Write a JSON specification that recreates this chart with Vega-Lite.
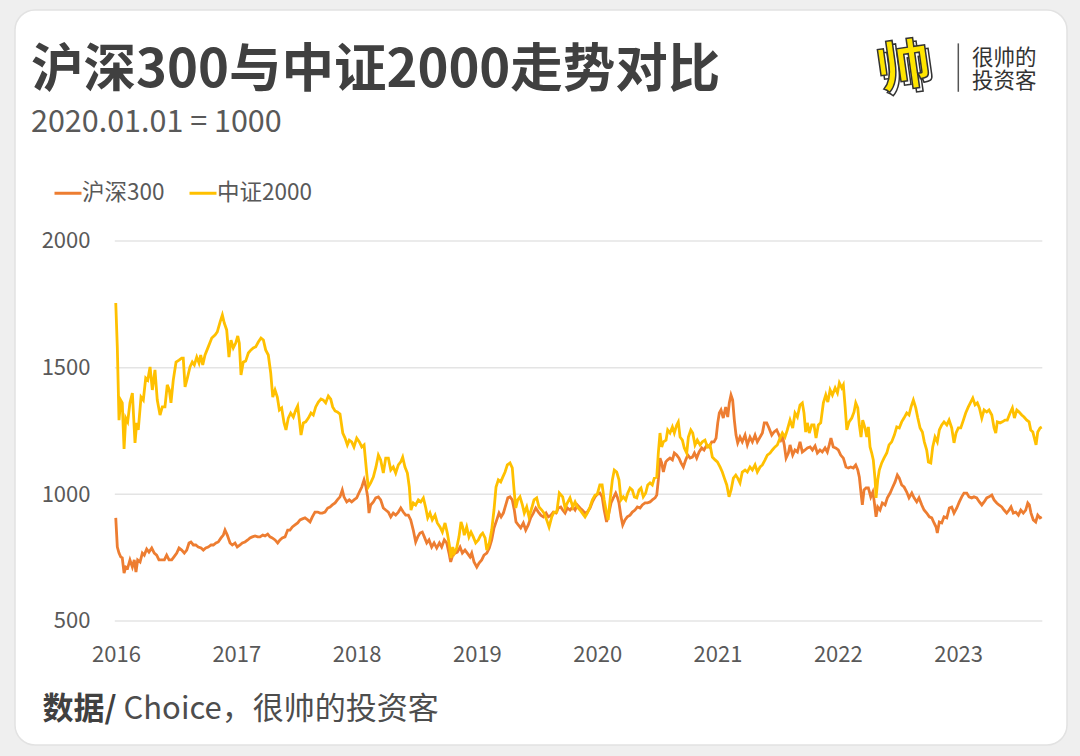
{
"$schema":"https://vega.github.io/schema/vega-lite/v6.json",
"width":1052,"height":735,
"autosize":{"type":"none"},
"padding":{"left":15,"top":10,"right":13,"bottom":11},
"background":"#efefef",
"config":{"font":"Noto Sans CJK SC","view":{"fill":"#ffffff","cornerRadius":20,"stroke":"#e2e2e2","strokeWidth":1.5}},
"title":{"text":"沪深300与中证2000走势对比","subtitle":"2020.01.01 = 1000","orient":"top","anchor":"start","frame":"group","offset":-129,"dx":16,"fontSize":52.5,"fontWeight":"bold","color":"#404040","subtitleFontSize":30.5,"subtitleColor":"#595959","subtitlePadding":9,"font":"Noto Sans CJK SC","subtitleFont":"Noto Sans CJK SC"},
"datasets":{
"hs":[{"t":2015.998,"v":907},{"t":2016.011,"v":792},{"t":2016.025,"v":768},{"t":2016.039,"v":753},{"t":2016.052,"v":749},{"t":2016.067,"v":689},{"t":2016.081,"v":713},{"t":2016.097,"v":709},{"t":2016.116,"v":741},{"t":2016.136,"v":713},{"t":2016.152,"v":741},{"t":2016.166,"v":693},{"t":2016.180,"v":741},{"t":2016.200,"v":733},{"t":2016.219,"v":768},{"t":2016.235,"v":760},{"t":2016.255,"v":784},{"t":2016.274,"v":772},{"t":2016.297,"v":788},{"t":2016.318,"v":768},{"t":2016.338,"v":760},{"t":2016.357,"v":741},{"t":2016.380,"v":741},{"t":2016.402,"v":741},{"t":2016.421,"v":760},{"t":2016.441,"v":741},{"t":2016.463,"v":741},{"t":2016.482,"v":753},{"t":2016.505,"v":768},{"t":2016.524,"v":788},{"t":2016.546,"v":780},{"t":2016.568,"v":768},{"t":2016.588,"v":780},{"t":2016.607,"v":808},{"t":2016.623,"v":812},{"t":2016.643,"v":800},{"t":2016.663,"v":800},{"t":2016.684,"v":792},{"t":2016.707,"v":788},{"t":2016.726,"v":780},{"t":2016.746,"v":788},{"t":2016.767,"v":792},{"t":2016.790,"v":800},{"t":2016.809,"v":800},{"t":2016.831,"v":808},{"t":2016.850,"v":812},{"t":2016.873,"v":828},{"t":2016.892,"v":839},{"t":2016.906,"v":859},{"t":2016.925,"v":839},{"t":2016.948,"v":808},{"t":2016.967,"v":800},{"t":2016.989,"v":808},{"t":2017.008,"v":792},{"t":2017.031,"v":800},{"t":2017.050,"v":808},{"t":2017.072,"v":812},{"t":2017.095,"v":820},{"t":2017.114,"v":828},{"t":2017.133,"v":832},{"t":2017.156,"v":836},{"t":2017.178,"v":832},{"t":2017.197,"v":832},{"t":2017.220,"v":839},{"t":2017.239,"v":836},{"t":2017.261,"v":843},{"t":2017.280,"v":832},{"t":2017.299,"v":828},{"t":2017.322,"v":820},{"t":2017.344,"v":808},{"t":2017.363,"v":820},{"t":2017.382,"v":828},{"t":2017.405,"v":832},{"t":2017.427,"v":859},{"t":2017.446,"v":859},{"t":2017.466,"v":871},{"t":2017.488,"v":879},{"t":2017.510,"v":887},{"t":2017.530,"v":899},{"t":2017.549,"v":903},{"t":2017.571,"v":907},{"t":2017.594,"v":899},{"t":2017.613,"v":891},{"t":2017.632,"v":911},{"t":2017.654,"v":930},{"t":2017.677,"v":930},{"t":2017.696,"v":926},{"t":2017.715,"v":926},{"t":2017.737,"v":930},{"t":2017.760,"v":946},{"t":2017.779,"v":950},{"t":2017.798,"v":958},{"t":2017.821,"v":966},{"t":2017.840,"v":978},{"t":2017.862,"v":990},{"t":2017.881,"v":1017},{"t":2017.895,"v":990},{"t":2017.918,"v":970},{"t":2017.939,"v":978},{"t":2017.959,"v":970},{"t":2017.978,"v":978},{"t":2018.001,"v":986},{"t":2018.023,"v":1009},{"t":2018.043,"v":1029},{"t":2018.062,"v":1057},{"t":2018.078,"v":1029},{"t":2018.092,"v":990},{"t":2018.103,"v":926},{"t":2018.117,"v":958},{"t":2018.139,"v":970},{"t":2018.159,"v":986},{"t":2018.181,"v":990},{"t":2018.200,"v":978},{"t":2018.222,"v":946},{"t":2018.242,"v":938},{"t":2018.264,"v":930},{"t":2018.284,"v":911},{"t":2018.305,"v":926},{"t":2018.325,"v":918},{"t":2018.347,"v":930},{"t":2018.367,"v":946},{"t":2018.388,"v":930},{"t":2018.408,"v":918},{"t":2018.430,"v":918},{"t":2018.450,"v":899},{"t":2018.471,"v":859},{"t":2018.491,"v":812},{"t":2018.508,"v":832},{"t":2018.527,"v":847},{"t":2018.546,"v":851},{"t":2018.563,"v":832},{"t":2018.583,"v":808},{"t":2018.602,"v":820},{"t":2018.624,"v":792},{"t":2018.644,"v":808},{"t":2018.666,"v":788},{"t":2018.688,"v":808},{"t":2018.707,"v":792},{"t":2018.729,"v":820},{"t":2018.749,"v":808},{"t":2018.768,"v":768},{"t":2018.782,"v":733},{"t":2018.799,"v":760},{"t":2018.818,"v":768},{"t":2018.837,"v":772},{"t":2018.860,"v":792},{"t":2018.879,"v":768},{"t":2018.901,"v":780},{"t":2018.920,"v":768},{"t":2018.943,"v":753},{"t":2018.957,"v":768},{"t":2018.976,"v":733},{"t":2018.999,"v":713},{"t":2019.018,"v":729},{"t":2019.040,"v":741},{"t":2019.059,"v":760},{"t":2019.082,"v":768},{"t":2019.103,"v":788},{"t":2019.123,"v":820},{"t":2019.142,"v":867},{"t":2019.165,"v":899},{"t":2019.184,"v":926},{"t":2019.201,"v":911},{"t":2019.220,"v":926},{"t":2019.240,"v":958},{"t":2019.257,"v":986},{"t":2019.275,"v":990},{"t":2019.294,"v":978},{"t":2019.311,"v":938},{"t":2019.325,"v":891},{"t":2019.344,"v":879},{"t":2019.364,"v":867},{"t":2019.386,"v":887},{"t":2019.406,"v":859},{"t":2019.427,"v":879},{"t":2019.447,"v":907},{"t":2019.469,"v":926},{"t":2019.489,"v":946},{"t":2019.511,"v":930},{"t":2019.531,"v":918},{"t":2019.552,"v":911},{"t":2019.575,"v":926},{"t":2019.594,"v":911},{"t":2019.616,"v":918},{"t":2019.635,"v":930},{"t":2019.658,"v":926},{"t":2019.677,"v":946},{"t":2019.697,"v":950},{"t":2019.713,"v":938},{"t":2019.733,"v":926},{"t":2019.752,"v":946},{"t":2019.774,"v":938},{"t":2019.797,"v":950},{"t":2019.816,"v":938},{"t":2019.835,"v":958},{"t":2019.857,"v":946},{"t":2019.876,"v":938},{"t":2019.899,"v":926},{"t":2019.918,"v":930},{"t":2019.940,"v":946},{"t":2019.960,"v":970},{"t":2019.982,"v":990},{"t":2020.000,"v":1000},{"t":2020.022,"v":1005},{"t":2020.041,"v":990},{"t":2020.058,"v":938},{"t":2020.078,"v":891},{"t":2020.097,"v":926},{"t":2020.115,"v":966},{"t":2020.134,"v":986},{"t":2020.154,"v":1005},{"t":2020.167,"v":990},{"t":2020.181,"v":966},{"t":2020.198,"v":911},{"t":2020.212,"v":879},{"t":2020.231,"v":899},{"t":2020.250,"v":911},{"t":2020.273,"v":918},{"t":2020.292,"v":930},{"t":2020.314,"v":938},{"t":2020.334,"v":950},{"t":2020.356,"v":946},{"t":2020.375,"v":958},{"t":2020.398,"v":966},{"t":2020.417,"v":966},{"t":2020.439,"v":970},{"t":2020.458,"v":978},{"t":2020.481,"v":986},{"t":2020.495,"v":997},{"t":2020.508,"v":1057},{"t":2020.522,"v":1143},{"t":2020.536,"v":1124},{"t":2020.550,"v":1088},{"t":2020.570,"v":1128},{"t":2020.586,"v":1136},{"t":2020.605,"v":1143},{"t":2020.625,"v":1136},{"t":2020.641,"v":1163},{"t":2020.661,"v":1155},{"t":2020.680,"v":1143},{"t":2020.697,"v":1124},{"t":2020.716,"v":1108},{"t":2020.736,"v":1136},{"t":2020.753,"v":1155},{"t":2020.772,"v":1143},{"t":2020.791,"v":1147},{"t":2020.808,"v":1163},{"t":2020.827,"v":1143},{"t":2020.847,"v":1167},{"t":2020.869,"v":1183},{"t":2020.888,"v":1175},{"t":2020.911,"v":1195},{"t":2020.930,"v":1187},{"t":2020.952,"v":1207},{"t":2020.971,"v":1207},{"t":2020.988,"v":1222},{"t":2021.002,"v":1282},{"t":2021.015,"v":1321},{"t":2021.029,"v":1333},{"t":2021.048,"v":1301},{"t":2021.068,"v":1345},{"t":2021.085,"v":1305},{"t":2021.098,"v":1361},{"t":2021.112,"v":1392},{"t":2021.126,"v":1372},{"t":2021.140,"v":1293},{"t":2021.154,"v":1234},{"t":2021.168,"v":1203},{"t":2021.187,"v":1226},{"t":2021.206,"v":1207},{"t":2021.229,"v":1234},{"t":2021.248,"v":1195},{"t":2021.270,"v":1226},{"t":2021.290,"v":1207},{"t":2021.312,"v":1234},{"t":2021.331,"v":1207},{"t":2021.354,"v":1226},{"t":2021.373,"v":1242},{"t":2021.389,"v":1282},{"t":2021.409,"v":1282},{"t":2021.428,"v":1262},{"t":2021.451,"v":1234},{"t":2021.470,"v":1246},{"t":2021.492,"v":1254},{"t":2021.511,"v":1234},{"t":2021.528,"v":1214},{"t":2021.542,"v":1226},{"t":2021.555,"v":1195},{"t":2021.570,"v":1143},{"t":2021.589,"v":1163},{"t":2021.603,"v":1195},{"t":2021.625,"v":1155},{"t":2021.644,"v":1175},{"t":2021.664,"v":1167},{"t":2021.686,"v":1207},{"t":2021.705,"v":1167},{"t":2021.728,"v":1175},{"t":2021.747,"v":1183},{"t":2021.770,"v":1187},{"t":2021.789,"v":1175},{"t":2021.811,"v":1191},{"t":2021.830,"v":1163},{"t":2021.852,"v":1175},{"t":2021.871,"v":1167},{"t":2021.894,"v":1183},{"t":2021.913,"v":1167},{"t":2021.929,"v":1195},{"t":2021.943,"v":1222},{"t":2021.962,"v":1187},{"t":2021.982,"v":1183},{"t":2022.004,"v":1175},{"t":2022.024,"v":1155},{"t":2022.046,"v":1143},{"t":2022.068,"v":1108},{"t":2022.088,"v":1104},{"t":2022.107,"v":1108},{"t":2022.129,"v":1104},{"t":2022.149,"v":1116},{"t":2022.166,"v":1096},{"t":2022.179,"v":1068},{"t":2022.193,"v":1005},{"t":2022.204,"v":958},{"t":2022.218,"v":1017},{"t":2022.235,"v":1025},{"t":2022.254,"v":1025},{"t":2022.274,"v":990},{"t":2022.291,"v":1009},{"t":2022.301,"v":978},{"t":2022.318,"v":911},{"t":2022.332,"v":950},{"t":2022.351,"v":938},{"t":2022.370,"v":966},{"t":2022.393,"v":958},{"t":2022.412,"v":986},{"t":2022.435,"v":1005},{"t":2022.453,"v":1025},{"t":2022.476,"v":1049},{"t":2022.495,"v":1076},{"t":2022.511,"v":1064},{"t":2022.531,"v":1037},{"t":2022.551,"v":1029},{"t":2022.573,"v":1009},{"t":2022.592,"v":986},{"t":2022.615,"v":1005},{"t":2022.634,"v":986},{"t":2022.656,"v":970},{"t":2022.675,"v":986},{"t":2022.698,"v":958},{"t":2022.717,"v":938},{"t":2022.739,"v":926},{"t":2022.761,"v":911},{"t":2022.781,"v":907},{"t":2022.800,"v":887},{"t":2022.817,"v":871},{"t":2022.827,"v":847},{"t":2022.844,"v":891},{"t":2022.864,"v":887},{"t":2022.883,"v":911},{"t":2022.906,"v":907},{"t":2022.927,"v":946},{"t":2022.947,"v":950},{"t":2022.966,"v":926},{"t":2022.989,"v":946},{"t":2023.010,"v":970},{"t":2023.030,"v":990},{"t":2023.049,"v":1005},{"t":2023.072,"v":1005},{"t":2023.091,"v":990},{"t":2023.113,"v":986},{"t":2023.132,"v":990},{"t":2023.155,"v":986},{"t":2023.177,"v":970},{"t":2023.197,"v":958},{"t":2023.216,"v":970},{"t":2023.238,"v":986},{"t":2023.257,"v":990},{"t":2023.280,"v":997},{"t":2023.299,"v":978},{"t":2023.321,"v":966},{"t":2023.340,"v":958},{"t":2023.363,"v":950},{"t":2023.382,"v":938},{"t":2023.404,"v":926},{"t":2023.424,"v":938},{"t":2023.440,"v":950},{"t":2023.459,"v":926},{"t":2023.479,"v":930},{"t":2023.501,"v":918},{"t":2023.521,"v":938},{"t":2023.542,"v":926},{"t":2023.562,"v":938},{"t":2023.579,"v":966},{"t":2023.592,"v":958},{"t":2023.606,"v":926},{"t":2023.625,"v":899},{"t":2023.645,"v":891},{"t":2023.662,"v":918},{"t":2023.681,"v":907},{"t":2023.695,"v":911}],
"zz":[{"t":2015.998,"v":1755},{"t":2016.011,"v":1578},{"t":2016.025,"v":1293},{"t":2016.039,"v":1372},{"t":2016.052,"v":1361},{"t":2016.067,"v":1179},{"t":2016.081,"v":1301},{"t":2016.097,"v":1286},{"t":2016.116,"v":1361},{"t":2016.136,"v":1400},{"t":2016.158,"v":1203},{"t":2016.172,"v":1282},{"t":2016.185,"v":1254},{"t":2016.208,"v":1384},{"t":2016.227,"v":1372},{"t":2016.247,"v":1459},{"t":2016.264,"v":1451},{"t":2016.283,"v":1503},{"t":2016.302,"v":1412},{"t":2016.324,"v":1491},{"t":2016.343,"v":1372},{"t":2016.366,"v":1313},{"t":2016.385,"v":1345},{"t":2016.407,"v":1345},{"t":2016.426,"v":1432},{"t":2016.443,"v":1412},{"t":2016.457,"v":1361},{"t":2016.476,"v":1451},{"t":2016.499,"v":1522},{"t":2016.524,"v":1530},{"t":2016.546,"v":1538},{"t":2016.559,"v":1538},{"t":2016.574,"v":1424},{"t":2016.593,"v":1459},{"t":2016.615,"v":1503},{"t":2016.634,"v":1522},{"t":2016.651,"v":1511},{"t":2016.671,"v":1542},{"t":2016.690,"v":1518},{"t":2016.704,"v":1550},{"t":2016.721,"v":1511},{"t":2016.740,"v":1550},{"t":2016.767,"v":1582},{"t":2016.796,"v":1617},{"t":2016.823,"v":1629},{"t":2016.842,"v":1641},{"t":2016.865,"v":1680},{"t":2016.884,"v":1708},{"t":2016.900,"v":1676},{"t":2016.920,"v":1649},{"t":2016.939,"v":1542},{"t":2016.956,"v":1609},{"t":2016.975,"v":1578},{"t":2016.995,"v":1597},{"t":2017.012,"v":1625},{"t":2017.025,"v":1597},{"t":2017.039,"v":1471},{"t":2017.058,"v":1522},{"t":2017.078,"v":1526},{"t":2017.100,"v":1558},{"t":2017.122,"v":1570},{"t":2017.141,"v":1578},{"t":2017.161,"v":1582},{"t":2017.183,"v":1601},{"t":2017.205,"v":1617},{"t":2017.225,"v":1609},{"t":2017.244,"v":1570},{"t":2017.266,"v":1550},{"t":2017.286,"v":1479},{"t":2017.303,"v":1384},{"t":2017.322,"v":1412},{"t":2017.341,"v":1384},{"t":2017.358,"v":1333},{"t":2017.377,"v":1341},{"t":2017.397,"v":1282},{"t":2017.413,"v":1254},{"t":2017.432,"v":1301},{"t":2017.452,"v":1321},{"t":2017.474,"v":1305},{"t":2017.494,"v":1333},{"t":2017.510,"v":1349},{"t":2017.524,"v":1293},{"t":2017.538,"v":1234},{"t":2017.557,"v":1282},{"t":2017.577,"v":1286},{"t":2017.599,"v":1301},{"t":2017.621,"v":1321},{"t":2017.640,"v":1313},{"t":2017.660,"v":1345},{"t":2017.682,"v":1364},{"t":2017.704,"v":1376},{"t":2017.723,"v":1372},{"t":2017.743,"v":1361},{"t":2017.765,"v":1388},{"t":2017.785,"v":1376},{"t":2017.801,"v":1345},{"t":2017.821,"v":1329},{"t":2017.840,"v":1325},{"t":2017.862,"v":1317},{"t":2017.885,"v":1242},{"t":2017.904,"v":1222},{"t":2017.923,"v":1195},{"t":2017.939,"v":1214},{"t":2017.959,"v":1207},{"t":2017.978,"v":1187},{"t":2018.001,"v":1222},{"t":2018.023,"v":1207},{"t":2018.043,"v":1187},{"t":2018.062,"v":1195},{"t":2018.084,"v":1084},{"t":2018.097,"v":1029},{"t":2018.117,"v":1045},{"t":2018.139,"v":1068},{"t":2018.161,"v":1108},{"t":2018.181,"v":1155},{"t":2018.200,"v":1136},{"t":2018.222,"v":1084},{"t":2018.242,"v":1143},{"t":2018.264,"v":1143},{"t":2018.284,"v":1096},{"t":2018.305,"v":1108},{"t":2018.325,"v":1084},{"t":2018.347,"v":1116},{"t":2018.367,"v":1128},{"t":2018.383,"v":1147},{"t":2018.402,"v":1108},{"t":2018.422,"v":1084},{"t":2018.438,"v":1029},{"t":2018.452,"v":938},{"t":2018.471,"v":966},{"t":2018.491,"v":958},{"t":2018.513,"v":978},{"t":2018.533,"v":970},{"t":2018.555,"v":986},{"t":2018.575,"v":946},{"t":2018.591,"v":907},{"t":2018.610,"v":926},{"t":2018.629,"v":899},{"t":2018.652,"v":918},{"t":2018.671,"v":887},{"t":2018.693,"v":871},{"t":2018.713,"v":851},{"t":2018.735,"v":887},{"t":2018.754,"v":847},{"t":2018.771,"v":800},{"t":2018.785,"v":749},{"t":2018.799,"v":792},{"t":2018.812,"v":768},{"t":2018.832,"v":788},{"t":2018.851,"v":832},{"t":2018.868,"v":891},{"t":2018.882,"v":871},{"t":2018.895,"v":839},{"t":2018.915,"v":871},{"t":2018.934,"v":832},{"t":2018.951,"v":851},{"t":2018.970,"v":832},{"t":2018.990,"v":808},{"t":2019.012,"v":820},{"t":2019.032,"v":839},{"t":2019.048,"v":847},{"t":2019.068,"v":828},{"t":2019.082,"v":780},{"t":2019.103,"v":808},{"t":2019.123,"v":859},{"t":2019.142,"v":938},{"t":2019.159,"v":1029},{"t":2019.178,"v":1057},{"t":2019.198,"v":1049},{"t":2019.215,"v":1068},{"t":2019.234,"v":1088},{"t":2019.253,"v":1116},{"t":2019.275,"v":1124},{"t":2019.294,"v":1104},{"t":2019.309,"v":1017},{"t":2019.323,"v":946},{"t":2019.339,"v":978},{"t":2019.358,"v":990},{"t":2019.378,"v":958},{"t":2019.394,"v":926},{"t":2019.414,"v":950},{"t":2019.433,"v":911},{"t":2019.456,"v":946},{"t":2019.475,"v":978},{"t":2019.497,"v":986},{"t":2019.516,"v":950},{"t":2019.539,"v":938},{"t":2019.558,"v":926},{"t":2019.580,"v":899},{"t":2019.600,"v":871},{"t":2019.622,"v":911},{"t":2019.641,"v":930},{"t":2019.664,"v":930},{"t":2019.685,"v":1005},{"t":2019.713,"v":990},{"t":2019.733,"v":946},{"t":2019.752,"v":966},{"t":2019.774,"v":986},{"t":2019.797,"v":950},{"t":2019.816,"v":970},{"t":2019.835,"v":950},{"t":2019.857,"v":938},{"t":2019.876,"v":926},{"t":2019.899,"v":911},{"t":2019.918,"v":926},{"t":2019.940,"v":950},{"t":2019.960,"v":978},{"t":2019.982,"v":997},{"t":2020.000,"v":1000},{"t":2020.022,"v":1037},{"t":2020.041,"v":1037},{"t":2020.058,"v":978},{"t":2020.078,"v":926},{"t":2020.091,"v":899},{"t":2020.107,"v":978},{"t":2020.126,"v":1057},{"t":2020.142,"v":1096},{"t":2020.162,"v":1088},{"t":2020.181,"v":1057},{"t":2020.198,"v":978},{"t":2020.217,"v":990},{"t":2020.237,"v":978},{"t":2020.254,"v":1005},{"t":2020.273,"v":1025},{"t":2020.292,"v":1017},{"t":2020.309,"v":990},{"t":2020.329,"v":986},{"t":2020.348,"v":1017},{"t":2020.364,"v":1025},{"t":2020.383,"v":990},{"t":2020.403,"v":1005},{"t":2020.420,"v":1037},{"t":2020.439,"v":1045},{"t":2020.458,"v":1037},{"t":2020.475,"v":1064},{"t":2020.495,"v":1068},{"t":2020.508,"v":1163},{"t":2020.522,"v":1242},{"t":2020.536,"v":1187},{"t":2020.550,"v":1207},{"t":2020.572,"v":1214},{"t":2020.586,"v":1254},{"t":2020.605,"v":1242},{"t":2020.625,"v":1266},{"t":2020.641,"v":1242},{"t":2020.661,"v":1274},{"t":2020.674,"v":1286},{"t":2020.689,"v":1226},{"t":2020.708,"v":1214},{"t":2020.724,"v":1183},{"t":2020.744,"v":1163},{"t":2020.758,"v":1226},{"t":2020.778,"v":1254},{"t":2020.794,"v":1242},{"t":2020.813,"v":1195},{"t":2020.832,"v":1214},{"t":2020.855,"v":1195},{"t":2020.874,"v":1207},{"t":2020.896,"v":1214},{"t":2020.916,"v":1187},{"t":2020.938,"v":1195},{"t":2020.957,"v":1147},{"t":2020.980,"v":1136},{"t":2020.999,"v":1128},{"t":2021.021,"v":1108},{"t":2021.040,"v":1088},{"t":2021.057,"v":1064},{"t":2021.077,"v":1037},{"t":2021.096,"v":990},{"t":2021.113,"v":1017},{"t":2021.132,"v":1064},{"t":2021.152,"v":1076},{"t":2021.168,"v":1064},{"t":2021.187,"v":1045},{"t":2021.206,"v":1088},{"t":2021.229,"v":1096},{"t":2021.248,"v":1088},{"t":2021.270,"v":1108},{"t":2021.290,"v":1096},{"t":2021.312,"v":1116},{"t":2021.331,"v":1088},{"t":2021.354,"v":1108},{"t":2021.373,"v":1116},{"t":2021.395,"v":1136},{"t":2021.414,"v":1155},{"t":2021.437,"v":1163},{"t":2021.456,"v":1175},{"t":2021.478,"v":1187},{"t":2021.497,"v":1195},{"t":2021.520,"v":1222},{"t":2021.539,"v":1242},{"t":2021.561,"v":1226},{"t":2021.580,"v":1254},{"t":2021.603,"v":1293},{"t":2021.625,"v":1262},{"t":2021.644,"v":1321},{"t":2021.664,"v":1305},{"t":2021.686,"v":1353},{"t":2021.705,"v":1361},{"t":2021.719,"v":1321},{"t":2021.733,"v":1246},{"t":2021.747,"v":1282},{"t":2021.763,"v":1242},{"t":2021.783,"v":1274},{"t":2021.802,"v":1274},{"t":2021.819,"v":1222},{"t":2021.838,"v":1274},{"t":2021.858,"v":1282},{"t":2021.880,"v":1361},{"t":2021.900,"v":1392},{"t":2021.917,"v":1364},{"t":2021.936,"v":1412},{"t":2021.955,"v":1392},{"t":2021.978,"v":1420},{"t":2021.997,"v":1400},{"t":2022.013,"v":1440},{"t":2022.033,"v":1420},{"t":2022.046,"v":1432},{"t":2022.061,"v":1345},{"t":2022.075,"v":1254},{"t":2022.094,"v":1286},{"t":2022.116,"v":1301},{"t":2022.135,"v":1325},{"t":2022.149,"v":1361},{"t":2022.166,"v":1341},{"t":2022.179,"v":1274},{"t":2022.193,"v":1226},{"t":2022.207,"v":1293},{"t":2022.226,"v":1262},{"t":2022.241,"v":1226},{"t":2022.254,"v":1266},{"t":2022.268,"v":1187},{"t":2022.282,"v":1163},{"t":2022.295,"v":1136},{"t":2022.310,"v":1057},{"t":2022.318,"v":986},{"t":2022.332,"v":1057},{"t":2022.345,"v":1096},{"t":2022.365,"v":1124},{"t":2022.384,"v":1143},{"t":2022.407,"v":1163},{"t":2022.426,"v":1195},{"t":2022.448,"v":1207},{"t":2022.470,"v":1234},{"t":2022.490,"v":1266},{"t":2022.511,"v":1262},{"t":2022.531,"v":1286},{"t":2022.550,"v":1301},{"t":2022.573,"v":1321},{"t":2022.592,"v":1313},{"t":2022.609,"v":1345},{"t":2022.628,"v":1372},{"t":2022.648,"v":1341},{"t":2022.665,"v":1301},{"t":2022.684,"v":1262},{"t":2022.703,"v":1246},{"t":2022.719,"v":1207},{"t":2022.739,"v":1175},{"t":2022.753,"v":1128},{"t":2022.773,"v":1124},{"t":2022.789,"v":1187},{"t":2022.808,"v":1226},{"t":2022.827,"v":1207},{"t":2022.844,"v":1254},{"t":2022.864,"v":1274},{"t":2022.883,"v":1286},{"t":2022.906,"v":1274},{"t":2022.925,"v":1293},{"t":2022.947,"v":1262},{"t":2022.966,"v":1203},{"t":2022.983,"v":1242},{"t":2023.002,"v":1262},{"t":2023.022,"v":1262},{"t":2023.044,"v":1293},{"t":2023.063,"v":1321},{"t":2023.085,"v":1345},{"t":2023.105,"v":1364},{"t":2023.122,"v":1380},{"t":2023.141,"v":1353},{"t":2023.160,"v":1361},{"t":2023.177,"v":1341},{"t":2023.197,"v":1301},{"t":2023.216,"v":1333},{"t":2023.238,"v":1325},{"t":2023.257,"v":1333},{"t":2023.280,"v":1313},{"t":2023.299,"v":1262},{"t":2023.313,"v":1242},{"t":2023.326,"v":1286},{"t":2023.349,"v":1282},{"t":2023.368,"v":1286},{"t":2023.390,"v":1293},{"t":2023.409,"v":1293},{"t":2023.432,"v":1321},{"t":2023.451,"v":1341},{"t":2023.468,"v":1301},{"t":2023.488,"v":1333},{"t":2023.507,"v":1325},{"t":2023.529,"v":1313},{"t":2023.548,"v":1305},{"t":2023.571,"v":1293},{"t":2023.590,"v":1286},{"t":2023.604,"v":1254},{"t":2023.621,"v":1246},{"t":2023.634,"v":1222},{"t":2023.648,"v":1195},{"t":2023.662,"v":1246},{"t":2023.681,"v":1262},{"t":2023.695,"v":1266}]
},
"layer":[
{"data":{"values":[{"g":500},{"g":1000},{"g":1500},{"g":2000}]},
 "mark":{"type":"rule","color":"#e4e4e4","strokeWidth":1.5},
 "encoding":{
  "y":{"field":"g","type":"quantitative","scale":{"domain":[10.5,2911.8],"nice":false,"zero":false}},
  "x":{"datum":2015.99,"type":"quantitative","scale":{"domain":[2015.1604,2023.9052],"nice":false,"zero":false}},
  "x2":{"datum":2023.70}
 }},
{"data":{"name":"hs"},
 "mark":{"type":"line","strokeWidth":2.8},
 "encoding":{
  "x":{"field":"t","type":"quantitative","scale":{"domain":[2015.1604,2023.9052],"nice":false,"zero":false},
   "axis":{"values":[2016,2017,2018,2019,2020,2021,2022,2023],"format":"d","offset":-124,"domain":false,"ticks":false,"tickSize":0,"grid":false,"labelFontSize":22,"labelColor":"#595959","labelPadding":33,"labelBaseline":"middle","labelFlush":false,"labelOverlap":false,"title":"Choice，很帅的投资客","titleX":108,"titleY":88,"titleAlign":"left","titleBaseline":"middle","titleAnchor":"start","titleFontSize":31,"titleFontWeight":"normal","titleColor":"#4d4d4d"}},
  "y":{"field":"v","type":"quantitative","scale":{"domain":[10.5,2911.8],"nice":false,"zero":false},
   "axis":{"values":[500,1000,1500,2000],"format":"d","offset":-101,"domain":false,"ticks":false,"tickSize":0,"grid":false,"labelFontSize":22,"labelColor":"#595959","labelPadding":26,"labelBaseline":"middle","labelAlign":"right","title":"数据/","titleAngle":0,"titleX":-74,"titleY":699,"titleAlign":"left","titleBaseline":"middle","titleAnchor":"start","titleFontSize":31,"titleFontWeight":"bold","titleColor":"#404040"}},
  "color":{"datum":"沪深300","type":"nominal","scale":{"domain":["沪深300","中证2000"],"range":["#ED7D31","#FFC000"]},
   "legend":{"title":null,"orient":"none","legendX":38,"legendY":168,"direction":"horizontal","symbolType":"stroke","symbolStrokeWidth":3,"symbolSize":729,"labelFontSize":22.5,"labelColor":"#595959","labelOffset":-1,"columnPadding":18,"padding":0}}
 }},
{"data":{"name":"zz"},
 "mark":{"type":"line","strokeWidth":2.8},
 "encoding":{
  "x":{"field":"t","type":"quantitative","scale":{"domain":[2015.1604,2023.9052],"nice":false,"zero":false}},
  "y":{"field":"v","type":"quantitative","scale":{"domain":[10.5,2911.8],"nice":false,"zero":false}},
  "color":{"datum":"中证2000","type":"nominal","scale":{"domain":["沪深300","中证2000"],"range":["#ED7D31","#FFC000"]}}
 }},
{"data":{"values":[{}]},
 "mark":{"type":"text","text":"帅","fontSize":54,"fontWeight":"bold","fill":"#ffffff","stroke":"#333333","strokeWidth":1.5,"align":"center","baseline":"middle","angle":-8,"dx":3,"dy":4},
 "encoding":{"x":{"datum":2022.55,"type":"quantitative","scale":{"domain":[2015.1604,2023.9052],"nice":false,"zero":false}},"y":{"datum":2679,"type":"quantitative","scale":{"domain":[10.5,2911.8],"nice":false,"zero":false}}}},
{"data":{"values":[{}]},
 "mark":{"type":"text","text":"帅","fontSize":54,"fontWeight":"bold","fill":"#FFE500","stroke":"#333333","strokeWidth":1.5,"align":"center","baseline":"middle","angle":-8},
 "encoding":{"x":{"datum":2022.55,"type":"quantitative","scale":{"domain":[2015.1604,2023.9052],"nice":false,"zero":false}},"y":{"datum":2679,"type":"quantitative","scale":{"domain":[10.5,2911.8],"nice":false,"zero":false}}}},
{"data":{"values":[{}]},
 "mark":{"type":"rule","color":"#555555","strokeWidth":1.5},
 "encoding":{"x":{"datum":2023.0017,"type":"quantitative","scale":{"domain":[2015.1604,2023.9052],"nice":false,"zero":false}},"y":{"datum":2780,"type":"quantitative","scale":{"domain":[10.5,2911.8],"nice":false,"zero":false}},"y2":{"datum":2589}}},
{"data":{"values":[{}]},
 "mark":{"type":"text","text":["很帅的","投资客"],"lineHeight":23,"fontSize":21.5,"fontWeight":"normal","color":"#333333","align":"left","baseline":"middle"},
 "encoding":{"x":{"datum":2023.1156,"type":"quantitative","scale":{"domain":[2015.1604,2023.9052],"nice":false,"zero":false}},"y":{"datum":2718,"type":"quantitative","scale":{"domain":[10.5,2911.8],"nice":false,"zero":false}}}}
]
}
